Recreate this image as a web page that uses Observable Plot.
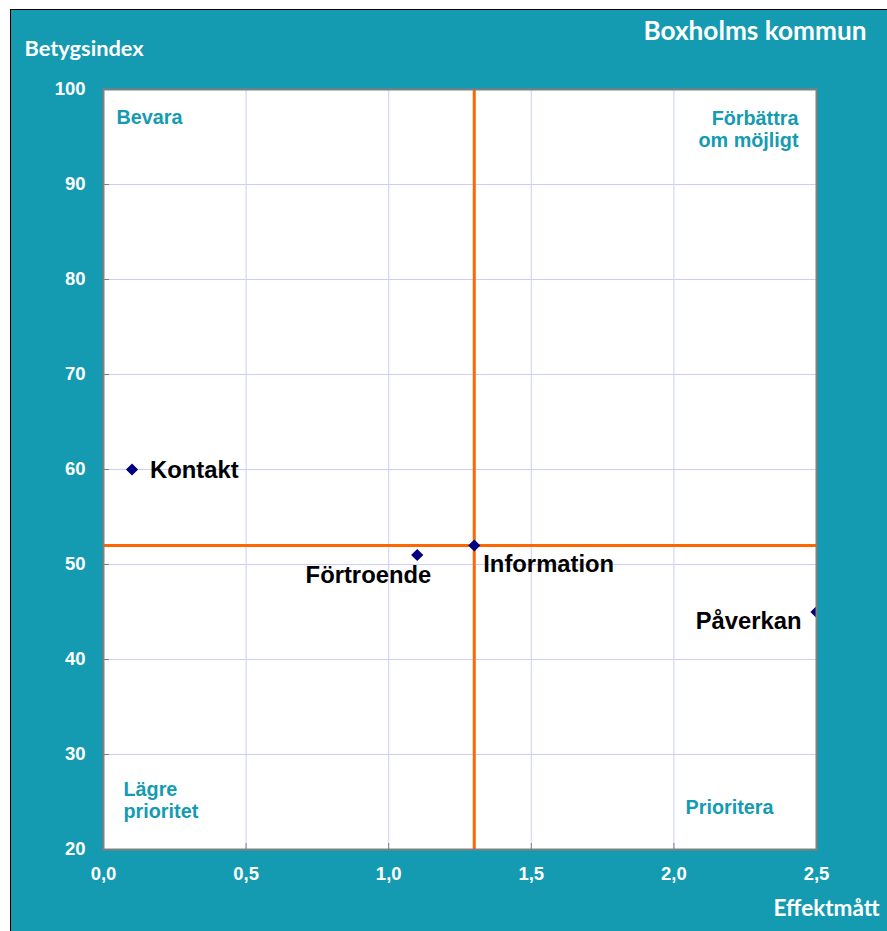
<!DOCTYPE html>
<html>
<head>
<meta charset="utf-8">
<script src="https://cdn.jsdelivr.net/npm/d3@7"></script>
<script src="https://cdn.jsdelivr.net/npm/@observablehq/plot@0.6"></script>
<style>
  html, body { margin: 0; padding: 0; background: white; }
  #wrap { position: relative; width: 887px; height: 931px; overflow: hidden; }
  #bg { position: absolute; left: 10px; top: 9px; width: 877px; height: 922px;
        background: #149bb1; border-top: 1px solid #000; border-left: 1px solid #000; }
  #chart { position: absolute; left: 0; top: 0; }
</style>
</head>
<body>
<div id="wrap"><div id="bg"></div><div id="chart"></div></div>
<script>
// Data
const labels = ["Kontakt", "Förtroende", "Information", "Påverkan"];
const effekt = [0.1, 1.1, 1.3, 2.5];
const betyg = [60, 51, 52, 45];
const refEffekt = 1.3;
const refBetyg = 52;
const xTicks = [0, 0.5, 1.0, 1.5, 2.0, 2.5];
const yTicks = [20, 30, 40, 50, 60, 70, 80, 90, 100];
const title = "Boxholms kommun";
const xTitle = "Effektmått";
const yTitle = "Betygsindex";
const quadrants = ["Bevara", "Förbättra\nom möjligt", "Lägre\nprioritet", "Prioritera"];

const points = labels.map((l, i) => ({label: l, x: effekt[i], y: betyg[i]}));

// label placement (layout only)
const labelLayout = [
  {textAnchor: "start", dx: 18, dy: 1},
  {textAnchor: "end", dx: 14, dy: 20},
  {textAnchor: "start", dx: 9, dy: 19},
  {textAnchor: "end", dx: -15, dy: 9}
];

const teal = "#149bb1";
const armFont = "Liberation Sans, Arial, sans-serif";
const titleFont = "Lato, 'Open Sans', sans-serif";

const fmtX = d => d.toFixed(1).replace(".", ",");

const plot = Plot.plot({
  width: 887,
  height: 931,
  marginLeft: 103,
  marginRight: 71,
  marginTop: 89,
  marginBottom: 82,
  style: {background: "transparent", overflow: "visible"},
  x: {domain: [0, 2.5], ticks: xTicks, tickFormat: fmtX, label: null},
  y: {domain: [20, 100], ticks: yTicks, label: null},
  marks: [
    Plot.frame({fill: "white", stroke: null}),
    Plot.gridX(xTicks, {stroke: "#ccccff", strokeOpacity: 1, strokeWidth: 1}),
    Plot.gridY(yTicks, {stroke: "#ccccff", strokeOpacity: 1, strokeWidth: 1}),
    Plot.ruleX(xTicks, {x: d => d, stroke: "#808080", insetTop: 754}),
    Plot.ruleY(yTicks, {y: d => d, stroke: "#808080", insetRight: 707}),
    Plot.axisX({ticks: xTicks, tickFormat: fmtX, tickSize: 0, tickPadding: 17, fill: "white",
      fontSize: 18.5, fontWeight: "bold", fontFamily: armFont, label: null}),
    Plot.axisY({ticks: yTicks, tickSize: 0, tickPadding: 18, fill: "white",
      fontSize: 18.5, fontWeight: "bold", fontFamily: armFont, label: null}),
    Plot.ruleX([refEffekt], {x: d => d, stroke: "#ff6600", strokeWidth: 3}),
    Plot.ruleY([refBetyg], {y: d => d, stroke: "#ff6600", strokeWidth: 3}),
    Plot.dot(points, {x: "x", y: "y", symbol: "diamond2", r: 5.5, fill: "#000080", stroke: null, clip: true}),
    ...points.map((p, i) => Plot.text([p], {
      x: "x", y: "y", text: "label",
      textAnchor: labelLayout[i].textAnchor, dx: labelLayout[i].dx, dy: labelLayout[i].dy,
      fontSize: 23.8, fontWeight: "bold", fontFamily: armFont, fill: "#000"
    })),
    Plot.frame({stroke: "#808080", strokeWidth: 2}),
    // quadrant labels
    Plot.text([quadrants[0]], {text: d => d, frameAnchor: "top-left", textAnchor: "start", lineAnchor: "top",
      dx: 13, dy: 20, fontSize: 19.8, fontWeight: "bold", fontFamily: armFont, fill: teal}),
    Plot.text([quadrants[1]], {text: d => d, frameAnchor: "top-right", textAnchor: "end", lineAnchor: "top",
      dx: -18, dy: 20.5, lineHeight: 1.08, fontSize: 19.8, fontWeight: "bold", fontFamily: armFont, fill: teal}),
    Plot.text([quadrants[2]], {text: d => d, frameAnchor: "bottom-left", textAnchor: "start", lineAnchor: "top",
      dx: 20, dy: -69.5, lineHeight: 1.12, fontSize: 19.8, fontWeight: "bold", fontFamily: armFont, fill: teal}),
    Plot.text([quadrants[3]], {text: d => d, frameAnchor: "bottom-right", textAnchor: "end", lineAnchor: "top",
      dx: -43, dy: -49.5, fontSize: 19.8, fontWeight: "bold", fontFamily: armFont, fill: teal}),
    // titles
    Plot.text([yTitle], {text: d => d, frameAnchor: "top-left", textAnchor: "start", lineAnchor: "middle",
      dx: -79, dy: -40, fontSize: 21.8, fontWeight: "bold", fontFamily: titleFont, fill: "white"}),
    Plot.text([title], {text: d => d, frameAnchor: "top-right", textAnchor: "end", lineAnchor: "middle",
      dx: 50, dy: -58, fontSize: 26.2, fontWeight: "bold", fontFamily: titleFont, fill: "white"}),
    Plot.text([xTitle], {text: d => d, frameAnchor: "bottom-right", textAnchor: "end", lineAnchor: "middle",
      dx: 63, dy: 59, fontSize: 22.5, fontWeight: "bold", fontFamily: titleFont, fill: "white"})
  ]
});
document.getElementById("chart").appendChild(plot);
</script>
</body>
</html>
